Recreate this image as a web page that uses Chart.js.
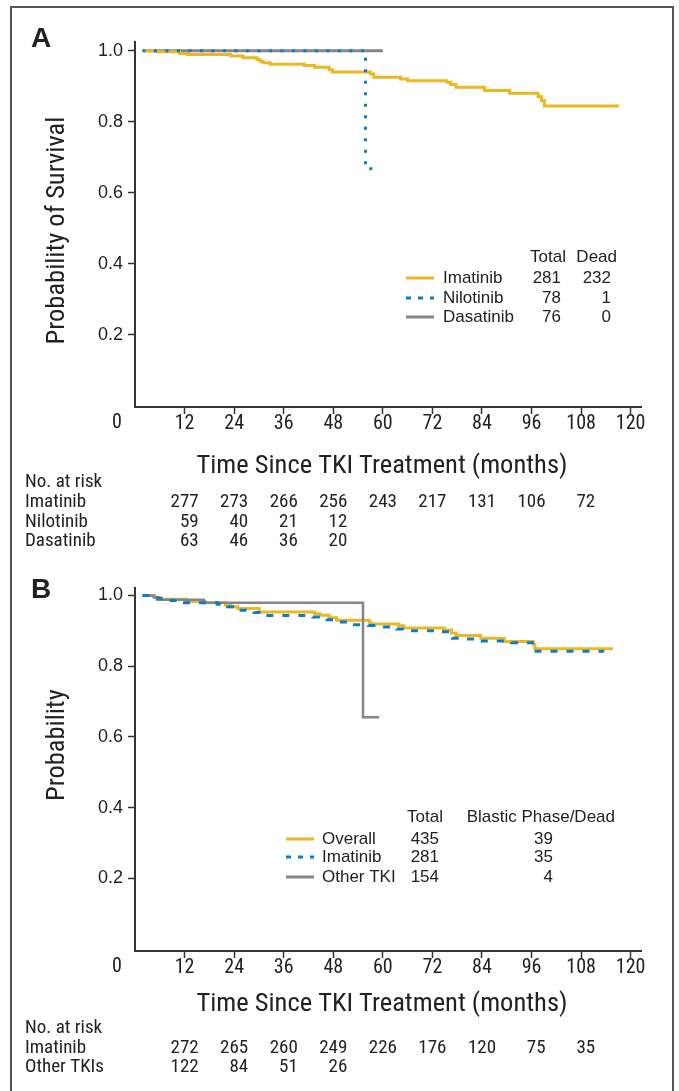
<!DOCTYPE html>
<html>
<head>
<meta charset="utf-8">
<script src="https://cdn.jsdelivr.net/npm/chart.js@4.4.1/dist/chart.umd.min.js"></script>
<style>
  body { margin: 0; background: #fff; }
  #page { position: relative; width: 679px; height: 1091px; overflow: hidden; }
  #frame { position: absolute; left: 10px; top: 6px; width: 660px; height: 1100px; border: 2px solid #555; border-bottom: none; }
  canvas { position: absolute; left: 0; }
  #chartA { top: 0; }
  #chartB { top: 560px; }
</style>
</head>
<body>
<div id="page">
  <div id="frame"></div>
  <canvas id="chartA" width="679" height="560"></canvas>
  <canvas id="chartB" width="679" height="531"></canvas>
</div>
<script>
// x ticks / risk table times (months)
const riskTimes = [12, 24, 36, 48, 60, 72, 84, 96, 108];

// Panel A - survival by TKI
const aImatinibT = [1.8, 5.5, 10.8, 12.8, 23.2, 26.2, 29.5, 30.2, 31.0, 32.7, 41.0, 43.5, 47.0, 47.8, 57.0, 57.8, 64.3, 66.0, 75.5, 76.4, 77.7, 84.6, 90.7, 97.6, 98.4, 99.1, 117.2];
const aImatinibS = [1.0, 0.997, 0.992, 0.989, 0.985, 0.980, 0.975, 0.970, 0.966, 0.962, 0.958, 0.953, 0.946, 0.940, 0.934, 0.925, 0.920, 0.915, 0.911, 0.905, 0.897, 0.888, 0.880, 0.871, 0.860, 0.844, 0.844];
const aNilotinibT = [1.8, 55.8, 57.5];
const aNilotinibS = [1.0, 0.667, 0.667];
const aDasatinibT = [2.5, 60.0];
const aDasatinibS = [1.0, 1.0];

const aLegendNames = ['Imatinib', 'Nilotinib', 'Dasatinib'];
const aLegendTotal = [281, 78, 76];
const aLegendDead = [232, 1, 0];

const aRiskLabels = ['Imatinib', 'Nilotinib', 'Dasatinib'];
const aRiskImatinib = [277, 273, 266, 256, 243, 217, 131, 106, 72];
const aRiskNilotinib = [59, 40, 21, 12];
const aRiskDasatinib = [63, 46, 36, 20];

// Panel B - progression to blastic phase
const bOverallT = [1.8, 4.6, 5.9, 12.4, 17.0, 21.9, 23.2, 24.9, 30.1, 43.5, 44.8, 47.0, 48.8, 56.8, 57.4, 63.9, 65.1, 74.8, 76.6, 77.7, 83.7, 89.4, 96.4, 96.8, 115.7];
const bOverallS = [1.0, 0.995, 0.989, 0.983, 0.979, 0.973, 0.968, 0.963, 0.953, 0.948, 0.944, 0.937, 0.930, 0.922, 0.919, 0.914, 0.908, 0.902, 0.894, 0.887, 0.879, 0.870, 0.862, 0.849, 0.849];
const bImatinibT = [1.8, 5.4, 6.3, 11.5, 20.0, 22.4, 24.5, 25.3, 28.8, 31.4, 43.1, 46.5, 49.1, 52.6, 56.5, 59.5, 63.4, 66.4, 74.2, 76.8, 80.3, 83.7, 91.1, 96.7, 113.6];
const bImatinibS = [1.0, 0.992, 0.986, 0.979, 0.975, 0.968, 0.962, 0.958, 0.952, 0.943, 0.939, 0.931, 0.925, 0.917, 0.915, 0.911, 0.905, 0.900, 0.897, 0.879, 0.877, 0.871, 0.866, 0.842, 0.842];
const bOtherT = [2.9, 4.6, 5.4, 16.7, 55.2, 59.1];
const bOtherS = [1.0, 0.995, 0.988, 0.979, 0.656, 0.656];

const bLegendNames = ['Overall', 'Imatinib', 'Other TKI'];
const bLegendTotal = [435, 281, 154];
const bLegendEvents = [39, 35, 4];

const bRiskLabels = ['Imatinib', 'Other TKIs'];
const bRiskImatinib = [272, 265, 260, 249, 226, 176, 120, 75, 35];
const bRiskOther = [122, 84, 51, 26];

const YELLOW = '#EBB822';
const BLUE = '#0B7DC6';
const GRAY = '#85858A';
const INK = '#222';
const NARROW = "'Roboto Condensed', 'Liberation Sans', sans-serif";
const SANS = "'Liberation Sans', Arial, sans-serif";

function pts(t, s) {
  return t.map((v, i) => ({ x: v, y: s[i] }));
}

function kmSet(label, t, s, color, width, dash, order) {
  return {
    label: label,
    data: pts(t, s),
    borderColor: color,
    borderWidth: width,
    borderDash: dash,
    borderCapStyle: 'butt',
    stepped: true,
    pointRadius: 0,
    fill: false,
    order: order
  };
}

// draws panel letter, "0" origin label, table legend and number-at-risk rows
function panelPlugin(cfg) {
  return {
    id: 'panel' + cfg.letter,
    afterDraw(chart) {
      const ctx = chart.ctx;
      const x = chart.scales.x;
      ctx.save();
      ctx.fillStyle = INK;

      ctx.font = 'bold 28px ' + SANS;
      ctx.textAlign = 'center';
      ctx.textBaseline = 'middle';
      ctx.fillText(cfg.letter, 41, cfg.letterY);

      // legend
      const lg = cfg.legend;
      ctx.font = '17px ' + SANS;
      ctx.textAlign = 'right';
      ctx.fillText(lg.head[0], lg.headX[0], lg.headY);
      ctx.fillText(lg.head[1], lg.headX[1], lg.headY);
      lg.names.forEach((name, i) => {
        const ds = chart.data.datasets[i];
        const y = lg.rowY[i];
        ctx.strokeStyle = ds.borderColor;
        ctx.lineWidth = 3;
        ctx.setLineDash(ds.borderDash.length ? [5, 7] : []);
        ctx.beginPath();
        ctx.moveTo(lg.lineX[0], y);
        ctx.lineTo(lg.lineX[1], y);
        ctx.stroke();
        ctx.textAlign = 'left';
        ctx.fillText(name, lg.textX, y);
        ctx.textAlign = 'right';
        ctx.fillText(String(lg.col1[i]), lg.colX[0], y);
        ctx.fillText(String(lg.col2[i]), lg.colX[1], y);
      });

      // origin label and number at risk
      ctx.font = '20px ' + NARROW;
      ctx.textAlign = 'center';
      ctx.fillText('0', 117, x.top + 16);

      const rk = cfg.risk;
      ctx.font = '19px ' + NARROW;
      const half = ctx.measureText('000').width / 2;
      ctx.textAlign = 'left';
      ctx.fillText('No. at risk', 25, rk.headY);
      rk.rows.forEach((row, i) => {
        const y = rk.rowY[i];
        ctx.textAlign = 'left';
        ctx.fillText(rk.labels[i], 25, y);
        ctx.textAlign = 'right';
        row.forEach((v, j) => {
          ctx.fillText(String(v), x.getPixelForValue(riskTimes[j]) + half, y);
        });
      });
      ctx.restore();
    }
  };
}

function axes(o) {
  return {
    x: {
      type: 'linear',
      min: 0,
      max: 122.5,
      afterFit: s => { s.height = o.xHeight; },
      afterBuildTicks: s => { s.ticks = s.ticks.filter(t => t.value > 0); },
      border: { display: true, color: '#333', width: 2 },
      grid: { display: true, drawOnChartArea: false, drawTicks: true, tickLength: 7, tickColor: '#333', tickWidth: 1.5 },
      ticks: { stepSize: 12, includeBounds: false, maxRotation: 0, autoSkip: false, padding: -2, color: INK, font: { family: NARROW, size: 20 } },
      title: { display: true, text: 'Time Since TKI Treatment (months)  ', color: INK, font: { family: NARROW, size: 26.5 }, padding: { top: 0, bottom: o.xTitlePad } }
    },
    y: {
      min: o.yMin,
      max: o.yMax,
      afterFit: s => { s.width = 135; },
      afterBuildTicks: s => { s.ticks = s.ticks.filter(t => t.value > 0.1); },
      border: { display: true, color: '#333', width: 2 },
      grid: { display: true, drawOnChartArea: false, drawTicks: true, tickLength: 7, tickColor: '#333', tickWidth: 1.5 },
      ticks: { stepSize: 0.2, includeBounds: false, padding: 5, color: INK, font: { family: SANS, size: 18 }, callback: v => v.toFixed(1) },
      title: { display: true, text: o.yTitle, color: INK, font: { family: NARROW, size: 26.5 }, padding: { top: 41, bottom: 0 } }
    }
  };
}

const baseOptions = {
  responsive: false,
  animation: false,
  devicePixelRatio: 1,
  plugins: { legend: { display: false }, tooltip: { enabled: false } }
};

new Chart(document.getElementById('chartA'), {
  type: 'line',
  data: {
    datasets: [
      kmSet('Imatinib', aImatinibT, aImatinibS, YELLOW, 3, [], 1),
      kmSet('Nilotinib', aNilotinibT, aNilotinibS, BLUE, 3, [3, 8.5], 0),
      kmSet('Dasatinib', aDasatinibT, aDasatinibS, GRAY, 3, [], 2)
    ]
  },
  options: Object.assign({}, baseOptions, {
    layout: { padding: { left: 0, top: 42, right: 38, bottom: 0 } },
    scales: axes({ xHeight: 153, xTitlePad: 78, yMin: -0.004, yMax: 1.0245, yTitle: 'Probability of Survival  ' })
  }),
  plugins: [panelPlugin({
    letter: 'A', letterY: 39,
    legend: {
      head: ['Total', 'Dead'], headX: [566, 617], headY: 257,
      names: aLegendNames, col1: aLegendTotal, col2: aLegendDead,
      rowY: [278, 298, 317], lineX: [406, 434], textX: 443, colX: [561, 611]
    },
    risk: {
      headY: 482, labels: aRiskLabels, rowY: [502, 522, 541],
      rows: [aRiskImatinib, aRiskNilotinib, aRiskDasatinib]
    }
  })]
});

new Chart(document.getElementById('chartB'), {
  type: 'line',
  data: {
    datasets: [
      kmSet('Overall', bOverallT, bOverallS, YELLOW, 3, [], 2),
      kmSet('Imatinib', bImatinibT, bImatinibS, BLUE, 3, [7, 9], 0),
      kmSet('Other TKI', bOtherT, bOtherS, GRAY, 2.5, [], 1)
    ]
  },
  options: Object.assign({}, baseOptions, {
    layout: { padding: { left: 0, top: 28, right: 38, bottom: 0 } },
    scales: axes({ xHeight: 140, xTitlePad: 71, yMin: -0.005, yMax: 1.021, yTitle: '        Probability' })
  }),
  plugins: [panelPlugin({
    letter: 'B', letterY: 30,
    legend: {
      head: ['Total', 'Blastic Phase/Dead'], headX: [443, 615], headY: 257,
      names: bLegendNames, col1: bLegendTotal, col2: bLegendEvents,
      rowY: [279, 297, 317], lineX: [286, 314], textX: 322, colX: [439, 553]
    },
    risk: {
      headY: 468, labels: bRiskLabels, rowY: [488, 507],
      rows: [bRiskImatinib, bRiskOther]
    }
  })]
});
</script>
</body>
</html>
